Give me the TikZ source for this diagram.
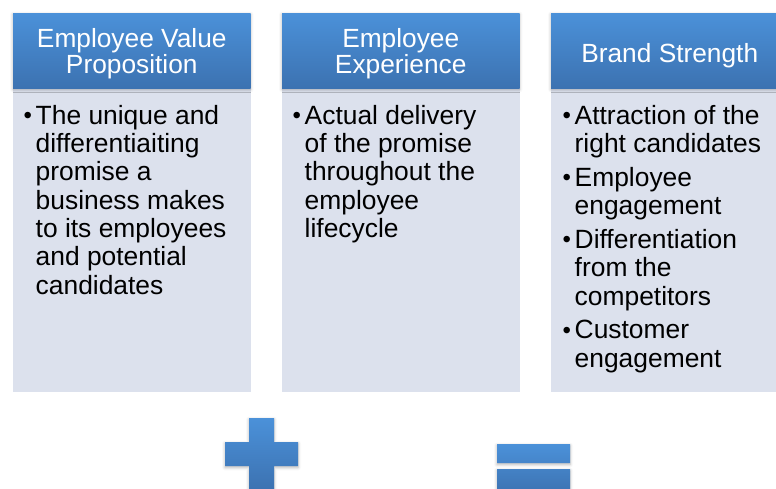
\documentclass[tikz,border=0pt]{standalone}
\usepackage{fontspec}
\setmainfont{Liberation Sans}
\usetikzlibrary{shadows.blur}
\definecolor{hdtop}{HTML}{4B91D9}
\definecolor{hdbot}{HTML}{3C72B1}
\definecolor{bodyfill}{HTML}{DCE1ED}
% bullet mark, a little smaller than the text
\newcommand\bulmark{\makebox[12pt][l]{\fontsize{24}{24}\selectfont\raisebox{0.5pt}{\textbullet}}}
\begin{document}
\begin{tikzpicture}[x=1pt,y=-1pt,
  softshadow/.style={blur shadow={shadow xshift=0pt, shadow yshift=-1.5pt,
      shadow blur radius=3pt, shadow opacity=30}},
  headbox/.style={draw=none, top color=hdtop, bottom color=hdbot,
      minimum width=237.5pt, minimum height=75pt, inner sep=0pt, softshadow},
  bodybox/.style={draw=none, fill=bodyfill,
      minimum width=237.5pt, minimum height=304pt, inner sep=0pt},
  headtext/.style={text=white, font=\fontsize{26.3}{26}\selectfont,
      align=center, inner sep=0pt, anchor=north},
  bodytext/.style={font=\fontsize{26.4}{28.3}\selectfont,
      inner sep=0pt, anchor=north west},
  signshape/.style={top color=hdtop, bottom color=hdbot, draw=none, softshadow}
]
\useasboundingbox (0,0) rectangle (776,488);
\clip (0,0) rectangle (776,488);

% body panels
\node[bodybox] (b1) at (131.75,240) {};
\node[bodybox] (b2) at (400.75,240) {};
\node[bodybox] (b3) at (669.75,240) {};

% header bars
\node[headbox] (h1) at (131.75,50.5) {};
\node[headbox] (h2) at (400.75,50.5) {};
\node[headbox] (h3) at (669.75,50.5) {};

% header titles
\node[headtext] (h1t) at (131.75,28) {Employee Value\\Proposition};
\node[headtext] (h2t) at (400.75,28.3) {Employee\\Experience};
\node[headtext] (h3t) at (669.75,43) {Brand Strength};

% bullet lists
\node[bodytext] (b1t) at (23.5,104.2) {%
  \begin{tabular}{@{}l@{}l@{}}
  \bulmark & The unique and\\
   & differentiaiting\\
   & promise a\\
   & business makes\\
   & to its employees\\
   & and potential\\
   & candidates
  \end{tabular}};
\node[bodytext] (b2t) at (292.5,104.2) {%
  \begin{tabular}{@{}l@{}l@{}}
  \bulmark & Actual delivery\\
   & of the promise\\
   & throughout the\\
   & employee\\
   & lifecycle
  \end{tabular}};
\node[bodytext] (b3t) at (562.5,104.2) {%
  \begin{tabular}{@{}l@{}l@{}}
  \bulmark & Attraction of the\\
   & right candidates\\[5.5pt]
  \bulmark & Employee\\
   & engagement\\[5.5pt]
  \bulmark & Differentiation\\
   & from the\\
   & competitors\\[5.5pt]
  \bulmark & Customer\\
   & engagement
  \end{tabular}};

% plus sign
\path[signshape] (249,418) -- (274,418) -- (274,442) -- (298,442) -- (298,466)
  -- (274,466) -- (274,490) -- (249,490) -- (249,466) -- (225,466)
  -- (225,442) -- (249,442) -- cycle;

% equals sign
\path[signshape] (497,444) rectangle (570,463) (497,469) rectangle (570,494);
\end{tikzpicture}
\end{document}
